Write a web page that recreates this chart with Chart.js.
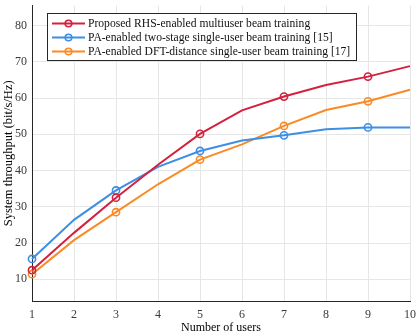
<!DOCTYPE html>
<html lang="en">
<head>
    <meta charset="UTF-8">
    <title>System throughput</title>
    <script src="https://cdn.jsdelivr.net/npm/chart.js@4.4.1/dist/chart.umd.min.js"></script>
    <style>
        body { margin: 0; background: #fff; }
        #wrap { width: 416px; height: 335px; }
    </style>
</head>
<body>
    <div id="wrap"><canvas id="chart" width="416" height="335"></canvas></div>

    <script>
        // Data
        const userCounts = ['1', '2', '3', '4', '5', '6', '7', '8', '9', '10'];
        const proposedRHS = [12.5, 22.8, 32.5, 41.6, 50.1, 56.6, 60.4, 63.6, 65.9, 68.8];
        const twoStage = [15.6, 26.4, 34.5, 41.0, 45.4, 48.3, 49.7, 51.4, 51.9, 51.9];
        const dftDistance = [11.4, 20.8, 28.5, 36.2, 43.0, 47.2, 52.3, 56.7, 59.1, 62.3];
        const yTicks = [10, 20, 30, 40, 50, 60, 70, 80];

        const seriesNames = [
            'Proposed RHS-enabled multiuser beam training',
            'PA-enabled two-stage single-user beam training [15]',
            'PA-enabled DFT-distance single-user beam training [17]'
        ];
        const seriesColors = ['#d3213f', '#3d8fe6', '#fc8a24'];

        const serif = '"Liberation Serif", "DejaVu Serif", serif';

        function makeSet(i, values) {
            return {
                label: seriesNames[i],
                data: values,
                borderColor: seriesColors[i],
                borderWidth: 2,
                pointRadius: c => (c.dataIndex % 2 === 0 ? 3.6 : 0),
                pointBorderWidth: 1.6,
                pointBackgroundColor: 'rgba(255,255,255,0)',
                pointBorderColor: seriesColors[i],
                tension: 0
            };
        }

        // legend box drawn inside the plot area, like the original
        const boxLegend = {
            id: 'boxLegend',
            afterDatasetsDraw(chart) {
                const ctx = chart.ctx;
                const x0 = 47, y0 = 13, w = 309, h = 47;
                ctx.save();
                ctx.fillStyle = '#fff';
                ctx.fillRect(x0, y0, w, h);
                ctx.strokeStyle = '#262626';
                ctx.lineWidth = 1;
                ctx.strokeRect(x0 + 0.5, y0 + 0.5, w, h);
                ctx.font = '11.6px ' + serif;
                ctx.textBaseline = 'middle';
                chart.data.datasets.forEach((ds, i) => {
                    const y = y0 + 10.5 + i * 14;
                    ctx.strokeStyle = ds.borderColor;
                    ctx.lineWidth = 2;
                    ctx.beginPath();
                    ctx.moveTo(x0 + 5, y);
                    ctx.lineTo(x0 + 38, y);
                    ctx.stroke();
                    ctx.lineWidth = 1.6;
                    ctx.beginPath();
                    ctx.arc(x0 + 21.5, y, 3.3, 0, Math.PI * 2);
                    ctx.stroke();
                    ctx.fillStyle = '#111';
                    ctx.fillText(ds.label, x0 + 41, y + 0.5);
                });
                ctx.restore();
            }
        };

        new Chart(document.getElementById('chart'), {
            type: 'line',
            data: {
                labels: userCounts,
                datasets: [makeSet(0, proposedRHS), makeSet(1, twoStage), makeSet(2, dftDistance)]
            },
            options: {
                responsive: false,
                animation: false,
                layout: { padding: { left: 0, right: 6, top: 1, bottom: 0 } },
                plugins: { legend: { display: false }, tooltip: { enabled: false } },
                scales: {
                    x: {
                        offset: false,
                        grid: { color: '#e6e6e6', drawTicks: false },
                        border: { display: true, color: '#262626', width: 1 },
                        ticks: { color: '#3a3a3a', padding: 7, maxRotation: 0, font: { family: serif, size: 12 } },
                        title: { display: true, text: 'Number of users', color: '#000', padding: 0,
                                 font: { family: serif, size: 12 } },
                        afterFit: s => {
                            s.height = 34;
                            s.paddingLeft = 0;
                            s.paddingRight = 0;
                        }
                    },
                    y: {
                        min: 4,
                        max: 85.5,
                        afterBuildTicks: s => { s.ticks = yTicks.map(v => ({ value: v })); },
                        grid: { color: '#e6e6e6', drawTicks: false },
                        border: { display: true, color: '#262626', width: 1 },
                        ticks: { color: '#3a3a3a', padding: 5, font: { family: serif, size: 12 } },
                        title: { display: true, text: 'System throughput (bit/s/Hz)', color: '#000', padding: 1,
                                 font: { family: serif, size: 12.5 } },
                        afterFit: s => {
                            s.width = 32;
                            s.paddingTop = 0;
                            s.paddingBottom = 0;
                        }
                    }
                }
            },
            plugins: [boxLegend]
        });
    </script>
</body>
</html>
